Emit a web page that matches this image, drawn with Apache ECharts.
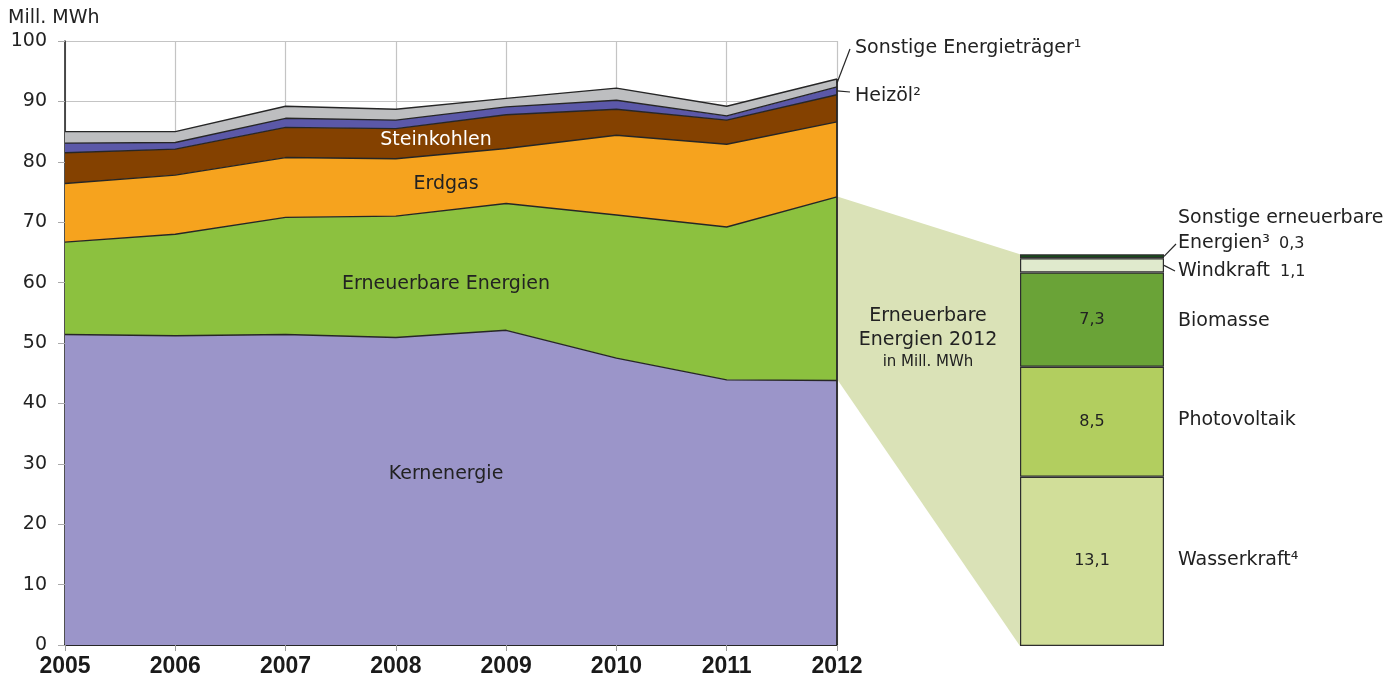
<!DOCTYPE html>
<html>
<head>
<meta charset="utf-8">
<script src="https://cdn.jsdelivr.net/npm/echarts@6/dist/echarts.min.js"></script>
<style>
  html, body { margin: 0; padding: 0; background: #fff; }
  #container { width: 1387px; height: 686px; }
</style>
</head>
<body>
<div id="container"></div>
<script>
// Stromerzeugung, Mill. MWh
var years = ['2005', '2006', '2007', '2008', '2009', '2010', '2011', '2012'];
var kernenergie = [51.4, 51.2, 51.4, 50.9, 52.1, 47.5, 43.9, 43.8];
var erneuerbare = [15.3, 16.8, 19.4, 20.1, 21.0, 23.7, 25.3, 30.4];
var erdgas = [9.7, 9.8, 9.9, 9.5, 9.1, 13.2, 13.7, 12.4];
var steinkohlen = [5.1, 4.3, 5.0, 5.0, 5.6, 4.3, 4.0, 4.5];
var heizoel = [1.6, 1.1, 1.5, 1.4, 1.3, 1.5, 0.7, 1.3];
var sonstige = [1.9, 1.8, 2.0, 1.8, 1.4, 2.0, 1.6, 1.3];

// Erneuerbare Energien 2012 (von unten nach oben)
var ernNames = ['Wasserkraft', 'Photovoltaik', 'Biomasse', 'Windkraft', 'Sonstige erneuerbare Energien'];
var ernValues = [13.1, 8.5, 7.3, 1.1, 0.3];

var FONT = '"DejaVu Sans", "Liberation Sans", sans-serif';
var LINE = '#262626';

var charts = echarts.init(document.getElementById('container'));

function areaSeries(name, data, color) {
    return {
        name: name,
        type: 'line',
        stack: 'total',
        data: data,
        symbol: 'none',
        silent: true,
        xAxisIndex: 0,
        yAxisIndex: 0,
        lineStyle: { color: LINE, width: 1.4 },
        areaStyle: { color: color, opacity: 1 },
        emphasis: { disabled: true },
        z: 3
    };
}

function barSeries(i, color, withLabel) {
    return {
        name: ernNames[i],
        type: 'bar',
        stack: 'ern',
        data: [ernValues[i]],
        xAxisIndex: 1,
        yAxisIndex: 1,
        barWidth: 144,
        silent: true,
        itemStyle: { color: color, borderColor: '#2e2e2e', borderWidth: 1.2 },
        label: {
            show: withLabel,
            position: 'inside',
            color: '#222',
            fontFamily: FONT,
            fontSize: 16,
            formatter: function (p) { return String(p.value).replace('.', ','); }
        },
        z: 4
    };
}

var option = {
    animation: false,
    backgroundColor: '#fff',
    grid: [
        { left: 65, right: 550, top: 41, bottom: 41 },
        { left: 1020, width: 144, top: 129, bottom: 40 }
    ],
    xAxis: [{
        type: 'category',
        gridIndex: 0,
        data: years,
        boundaryGap: false,
        axisLine: { lineStyle: { color: LINE, width: 1.8 } },
        axisTick: { show: true, length: 6, lineStyle: { color: '#999' } },
        axisLabel: {
            color: '#1a1a1a',
            fontFamily: '"Liberation Sans Narrow", "Liberation Sans", Arial, sans-serif',
            fontWeight: 'bold',
            fontSize: 23,
            margin: 10
        },
        splitLine: { show: true, lineStyle: { color: '#c4c4c4', width: 1.2 } }
    }, {
        type: 'category',
        gridIndex: 1,
        data: ['2012'],
        show: false
    }],
    yAxis: [{
        type: 'value',
        gridIndex: 0,
        min: 0,
        max: 100,
        interval: 10,
        axisLine: { show: true, lineStyle: { color: LINE, width: 1.6 } },
        axisTick: { show: true, length: 7, lineStyle: { color: '#aaa' } },
        axisLabel: { color: '#222', fontFamily: FONT, fontSize: 19, margin: 18 },
        splitLine: { show: true, lineStyle: { color: '#c4c4c4', width: 1.2 } }
    }, {
        type: 'value',
        gridIndex: 1,
        min: 0,
        max: 40,
        show: false
    }],
    series: [
        areaSeries('Kernenergie', kernenergie, '#9b95c9'),
        areaSeries('Erneuerbare Energien', erneuerbare, '#8cc13f'),
        areaSeries('Erdgas', erdgas, '#f6a31e'),
        areaSeries('Steinkohlen', steinkohlen, '#844100'),
        areaSeries('Heizöl', heizoel, '#5b58a8'),
        areaSeries('Sonstige Energieträger', sonstige, '#bdbec0'),
        barSeries(0, '#d1de99', true),
        barSeries(1, '#b2ce5f', true),
        barSeries(2, '#6aa337', true),
        barSeries(3, '#e0eacd', false),
        barSeries(4, '#174a1a', false)
    ]
};
charts.setOption(option);

function sumAt(arrs, i) {
    var s = 0;
    for (var k = 0; k < arrs.length; k++) s += arrs[k][i];
    return s;
}

function txt(text, x, y, size, color, align) {
    return {
        type: 'text',
        x: x,
        y: y,
        z: 20,
        silent: true,
        style: {
            text: text,
            fill: color || '#222',
            font: size + 'px ' + FONT,
            align: align || 'left',
            verticalAlign: 'middle'
        }
    };
}

function seg(p1, p2, w) {
    return {
        type: 'line',
        z: 20,
        silent: true,
        shape: { x1: p1[0], y1: p1[1], x2: p2[0], y2: p2[1] },
        style: { stroke: LINE, lineWidth: w || 1.2 }
    };
}

function addGraphics() {
    var last = years.length - 1;
    var layers = [kernenergie, erneuerbare, erdgas, steinkohlen, heizoel, sonstige];
    var g0 = { xAxisIndex: 0, yAxisIndex: 0 };
    var g1 = { xAxisIndex: 1, yAxisIndex: 1 };

    var kTop = charts.convertToPixel(g0, [years[last], kernenergie[last]]);
    var eTop = charts.convertToPixel(g0, [years[last], kernenergie[last] + erneuerbare[last]]);
    var base = charts.convertToPixel(g0, [years[last], 0]);
    var top = charts.convertToPixel(g0, [years[last], sumAt(layers, last)]);

    var ernTotal = 0;
    for (var i = 0; i < ernValues.length; i++) ernTotal += ernValues[i];
    var bTop = charts.convertToPixel(g1, ['2012', ernTotal]);
    var bBase = charts.convertToPixel(g1, ['2012', 0]);
    var barLeft = bTop[0] - 72;
    var barRight = bTop[0] + 72;

    // Heizöl / Sonstige Mitte am rechten Rand
    var heizMid = charts.convertToPixel(g0, [years[last], sumAt(layers.slice(0, 4), last) + heizoel[last] / 2]);
    var sonstMid = charts.convertToPixel(g0, [years[last], sumAt(layers.slice(0, 5), last) + sonstige[last] / 2]);
    var windMid = charts.convertToPixel(g1, ['2012', ernValues[0] + ernValues[1] + ernValues[2] + ernValues[3] / 2]);
    var sErnMid = charts.convertToPixel(g1, ['2012', ernTotal - ernValues[4] / 2]);

    var graphics = [
        {
            type: 'polygon',
            z: 1,
            silent: true,
            shape: { points: [[eTop[0] + 1, eTop[1]], [barLeft, bTop[1]], [barLeft, bBase[1]], [kTop[0] + 1, kTop[1]]] },
            style: { fill: '#dae2b7' }
        },
        seg(base, top, 1.8),
        seg(sonstMid, [850, 49]),
        seg(heizMid, [850, 92]),
        seg([barRight, sErnMid[1]], [1176, 244]),
        seg([barRight, windMid[1]], [1175, 271]),

        txt('Mill. MWh', 8, 18, 19),
        txt('Sonstige Energieträger¹', 855, 48, 19),
        txt('Heizöl²', 855, 96, 19),
        txt('Steinkohlen', 436, 140, 19, '#fff', 'center'),
        txt('Erdgas', 446, 184, 19, '#222', 'center'),
        txt('Erneuerbare Energien', 446, 284, 19, '#222', 'center'),
        txt('Kernenergie', 446, 474, 19, '#222', 'center'),

        txt('Erneuerbare', 928, 316, 19, '#222', 'center'),
        txt('Energien 2012', 928, 340, 19, '#222', 'center'),
        txt('in Mill. MWh', 928, 362, 15, '#222', 'center'),

        txt('Sonstige erneuerbare', 1178, 218, 19),
        txt('Energien³', 1178, 243, 19),
        txt('0,3', 1279, 244, 16),
        txt('Windkraft', 1178, 271, 19),
        txt('1,1', 1280, 272, 16),
        txt('Biomasse', 1178, 321, 19),
        txt('Photovoltaik', 1178, 420, 19),
        txt('Wasserkraft⁴', 1178, 560, 19)
    ];
    charts.setOption({ graphic: graphics });
}

addGraphics();
</script>
</body>
</html>
